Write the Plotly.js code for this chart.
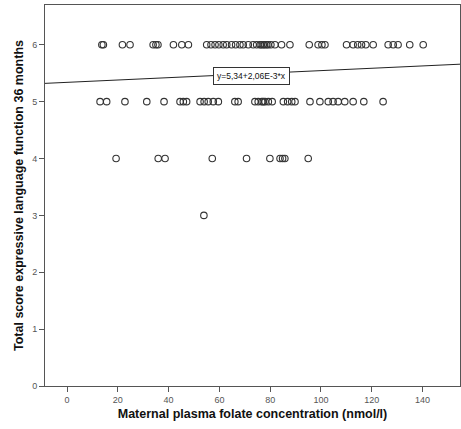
<!DOCTYPE html>
<html>
<head>
<meta charset="utf-8">
<script src="https://cdn.plot.ly/plotly-3.0.1.min.js"></script>
<style>html,body{margin:0;padding:0;background:#fff}#chart{width:461px;height:429px}</style>
</head>
<body>
<div id="chart"></div>
<script>
// Folate concentration (nmol/l) for each score level
const folateScore6 = [13.7, 14.3, 21.8, 24.8, 33.9, 35.0, 35.8, 41.9, 45.2, 47.8,
  55.0, 56.7, 58.3, 59.8, 61.5, 62.9, 64.8, 66.4, 68.1, 69.4, 71.4, 73.3, 74.7, 76.0, 76.5,
  77.3, 77.8, 78.6, 79.2, 80.3, 81.9, 84.5, 87.8, 95.4, 98.9, 100.4, 101.6,
  110.1, 112.7, 114.5, 116.0, 117.7, 120.6, 126.5, 128.5, 130.4, 135.0, 140.3];
const folateScore5 = [13.0, 15.6, 22.8, 31.4, 38.2, 44.5, 45.8, 47.1, 52.4, 54.0, 55.6, 57.6,
  59.6, 66.1, 67.4, 74.0, 75.3, 76.7, 77.3, 78.0, 79.3, 80.8, 85.2, 86.9, 88.5, 89.8,
  95.7, 99.6, 102.9, 104.8, 106.8, 109.4, 112.7, 116.9, 124.5];
const folateScore4 = [19.3, 35.9, 38.6, 57.2, 70.7, 79.9, 83.9, 84.9, 85.8, 95.0];
const folateScore3 = [53.9];

const scoreLevels = [6, 5, 4, 3];
const fitIntercept = 5.34;
const fitSlope = 0.00206;
const fitLabel = 'y=5,34+2,06E-3*x';

const xRange = [-8.7, 154.8];
const yRange = [0, 6.7];
const xTicks = [0, 20, 40, 60, 80, 100, 120, 140];
const yTicks = [0, 1, 2, 3, 4, 5, 6];

const groups = [folateScore6, folateScore5, folateScore4, folateScore3];
const px = [], py = [];
groups.forEach((g, i) => g.forEach(v => { px.push(v); py.push(scoreLevels[i]); }));

const fitX = [xRange[0], xRange[1]];
const fitY = fitX.map(x => fitIntercept + fitSlope * x);
const labelX = 57.3;

const traces = [
  {x: px, y: py, type: 'scatter', mode: 'markers', hoverinfo: 'skip',
   marker: {symbol: 'circle-open', size: 6.5, color: '#333', line: {width: 1.1, color: '#333'}}},
  {x: fitX, y: fitY, type: 'scatter', mode: 'lines', hoverinfo: 'skip',
   line: {color: '#222', width: 1}}
];

const axisCommon = {
  showgrid: false, zeroline: false, showline: true, linecolor: '#555', linewidth: 1,
  mirror: true, ticks: 'outside', ticklen: 5, tickcolor: '#555',
  tickfont: {family: 'Liberation Sans, Arial', size: 9, color: '#555'}
};

const layout = {
  width: 461, height: 429, showlegend: false,
  paper_bgcolor: '#fff', plot_bgcolor: '#fff',
  margin: {l: 45, r: 1, t: 5, b: 43},
  xaxis: Object.assign({}, axisCommon, {
    range: xRange, tickvals: xTicks, ticktext: xTicks.map(String),
    title: {text: '<b>Maternal plasma folate concentration (nmol/l)</b>', standoff: 5,
            font: {family: 'Liberation Sans, Arial', size: 12.5, color: '#111'}}
  }),
  yaxis: Object.assign({}, axisCommon, {
    range: yRange, tickvals: yTicks, ticktext: yTicks.map(String),
    title: {text: '<b>Total score expressive language function 36 months</b>', standoff: 5,
            font: {family: 'Liberation Sans, Arial', size: 12.5, color: '#111'}}
  }),
  annotations: [{
    x: labelX, y: fitIntercept + fitSlope * labelX, xref: 'x', yref: 'y',
    text: fitLabel, showarrow: false, xanchor: 'left', yanchor: 'middle',
    bgcolor: '#fff', bordercolor: '#333', borderwidth: 1, borderpad: 3,
    font: {family: 'Liberation Sans, Arial', size: 8.5, color: '#111'}
  }]
};

Plotly.newPlot('chart', traces, layout, {staticPlot: true, displayModeBar: false});
</script>
</body>
</html>
